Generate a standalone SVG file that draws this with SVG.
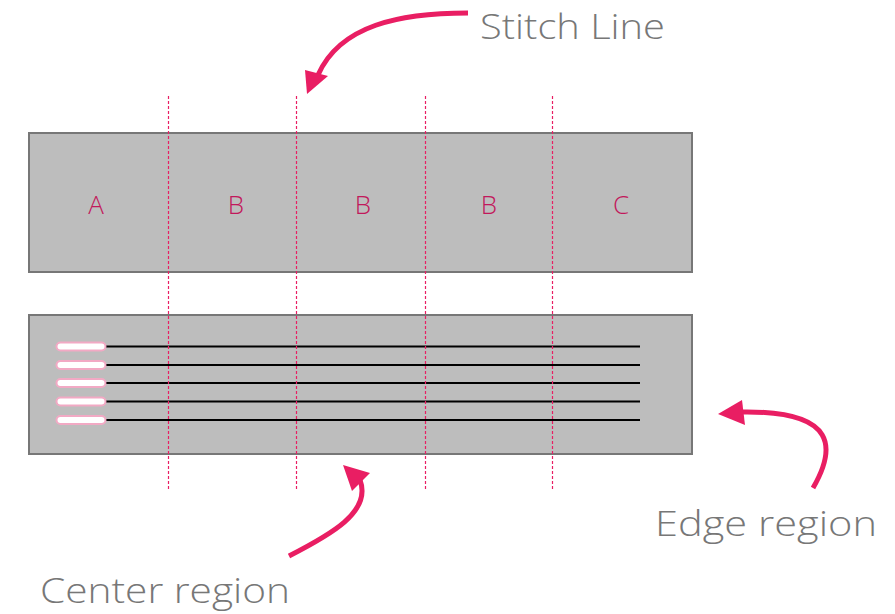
<svg xmlns="http://www.w3.org/2000/svg" width="895" height="614" viewBox="0 0 895 614">
<style>
.panel{fill:#bdbdbd;stroke:#777;stroke-width:2}
.stitch{stroke:#e91e63;stroke-width:1.2;stroke-dasharray:3 2;fill:none}
.thread{stroke:#000;stroke-width:2.2}
.pill{fill:#fff;stroke:#f2a9c4;stroke-width:2}
.lbl{font-family:"Open Sans",Lato,sans-serif;font-size:26px;fill:#c2185b;text-anchor:middle;font-weight:300}
.cap{font-family:"Open Sans",Lato,sans-serif;font-size:35px;fill:#777;font-weight:300}
.arr{fill:none;stroke:#e91e63;stroke-width:5}
.head{fill:#e91e63}
</style>
<g id="top-panel">
<rect class="panel" x="29" y="133" width="663" height="139"/>
<text class="lbl" x="96" y="214">A</text>
<text class="lbl" x="236" y="214">B</text>
<text class="lbl" x="363" y="214">B</text>
<text class="lbl" x="489" y="214">B</text>
<text class="lbl" x="621" y="214">C</text>
</g>
<g id="bottom-panel">
<rect class="panel" x="29" y="315" width="663" height="139"/>
<line class="thread" x1="104" y1="346.5" x2="640" y2="346.5"/>
<line class="thread" x1="104" y1="365" x2="640" y2="365"/>
<line class="thread" x1="104" y1="383" x2="640" y2="383"/>
<line class="thread" x1="104" y1="401.5" x2="640" y2="401.5"/>
<line class="thread" x1="104" y1="420" x2="640" y2="420"/>
<rect class="pill" x="56.5" y="342.5" width="49" height="8" rx="4"/>
<rect class="pill" x="56.5" y="361" width="49" height="8" rx="4"/>
<rect class="pill" x="56.5" y="379" width="49" height="8" rx="4"/>
<rect class="pill" x="56.5" y="397.5" width="49" height="8" rx="4"/>
<rect class="pill" x="56.5" y="416" width="49" height="8" rx="4"/>
</g>
<g id="stitch-lines">
<line class="stitch" x1="168.5" y1="96" x2="168.5" y2="490"/>
<line class="stitch" x1="296.5" y1="96" x2="296.5" y2="490"/>
<line class="stitch" x1="425.5" y1="96" x2="425.5" y2="490"/>
<line class="stitch" x1="552.5" y1="96" x2="552.5" y2="490"/>
</g>
<g id="captions">
<text class="cap" x="480" y="39" textLength="185" lengthAdjust="spacingAndGlyphs">Stitch Line</text>
<text class="cap" x="40" y="603" textLength="250" lengthAdjust="spacingAndGlyphs">Center region</text>
<text class="cap" x="655" y="536" textLength="222" lengthAdjust="spacingAndGlyphs">Edge region</text>
</g>
<g id="connectors">
<path class="arr" d="M468,13 C400,13 340,25 318,75"/>
<polygon class="head" points="307,94 305,70 328,76"/>
<path class="arr" d="M289,556 C330,535 372,512 360,480"/>
<polygon class="head" points="343,465 352,491 370,473"/>
<path class="arr" d="M813,488 C835,450 840,410 740,412"/>
<polygon class="head" points="718,414 742,400 745,425"/>
</g>
</svg>
